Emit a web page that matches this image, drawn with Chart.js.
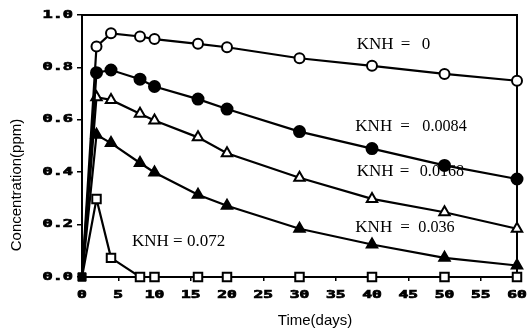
<!DOCTYPE html>
<html>
<head>
<meta charset="utf-8">
<script src="https://cdn.jsdelivr.net/npm/chart.js@4/dist/chart.umd.min.js"></script>
<style>
  html, body { margin: 0; padding: 0; background: #fff; }
  #wrap { width: 528px; height: 333px; }
</style>
</head>
<body>
<div id="wrap"><canvas id="concChart"></canvas></div>
<script>
// days sampled, and concentration (ppm) for each KNH value
var days = [0, 2, 4, 8, 10, 16, 20, 30, 40, 50, 60];
var knh0 = [0, 0.88, 0.93, 0.918, 0.908, 0.89, 0.877, 0.835, 0.806, 0.775, 0.749];
var knh0084 = [0, 0.78, 0.79, 0.755, 0.727, 0.679, 0.641, 0.555, 0.49, 0.426, 0.374];
var knh0168 = [0, 0.686, 0.676, 0.623, 0.597, 0.533, 0.472, 0.379, 0.298, 0.247, 0.184];
var knh036 = [0, 0.543, 0.511, 0.435, 0.399, 0.314, 0.272, 0.184, 0.124, 0.073, 0.044];
var knh072 = [0, 0.298, 0.073, 0, 0, 0, 0, 0, 0, 0, 0];

var xTicks = [0, 5, 10, 15, 20, 25, 30, 35, 40, 45, 50, 55, 60];
var yTicks = [0, 0.2, 0.4, 0.6, 0.8, 1.0];

// curve labels, placed in data units
var notes = [
    { x: 37.9, y: 0.887, num: '0', eq: 44, at: 65, sx: 1 },
    { x: 37.7, y: 0.573, num: '0.0084', eq: 45, at: 67, sx: 0.95 },
    { x: 37.9, y: 0.401, num: '0.0168', eq: 43, at: 63, sx: 0.95 },
    { x: 37.7, y: 0.187, num: '0.036', eq: 45, at: 63, sx: 0.95 },
    { x: 6.9, y: 0.134, num: '0.072', eq: 41, at: 55, sx: 1 }
];

function pts(values) {
    return values.map((v, i) => ({ x: days[i], y: v }));
}

function series(values, style, fill, radius) {
    return {
        data: pts(values),
        borderColor: '#000',
        borderWidth: 2.2,
        // first point (day 0) is a filled square
        pointStyle: ctx => ctx.dataIndex === 0 ? 'rect' : style,
        pointRadius: ctx => ctx.dataIndex === 0 ? 4.5 : radius,
        pointBackgroundColor: ctx => ctx.dataIndex === 0 ? '#000' : fill,
        pointBorderColor: '#000',
        pointBorderWidth: 2,
        clip: false,
        tension: 0
    };
}

var sets = [
    series(knh0, 'circle', '#fff', 5),
    series(knh0084, 'circle', '#000', 5.5),
    series(knh0168, 'triangle', '#fff', 6),
    series(knh036, 'triangle', '#000', 6),
    series(knh072, 'rect', '#fff', 6)
];

var frameAndText = {
    id: 'frameAndText',
    beforeDatasetsDraw(chart) {
        const { ctx, chartArea: a } = chart;
        ctx.save();
        ctx.strokeStyle = '#000';
        ctx.lineWidth = 2;
        ctx.strokeRect(a.left, a.top, a.right - a.left, a.bottom - a.top);
        ctx.restore();
    },
    afterDraw(chart) {
        const { ctx, scales: { x, y } } = chart;
        ctx.save();
        ctx.fillStyle = '#000';
        ctx.strokeStyle = '#000';

        // tick labels: wide, squat bold mono
        ctx.font = 'bold 13px "DejaVu Sans Mono"';
        ctx.lineWidth = 0.9;
        ctx.textBaseline = 'middle';
        ctx.textAlign = 'right';
        yTicks.forEach(v => {
            ctx.save();
            ctx.translate(73, y.getPixelForValue(v));
            ctx.scale(1.3, 0.75);
            ctx.fillText(v.toFixed(1), 0, 0);
            ctx.strokeText(v.toFixed(1), 0, 0);
            ctx.restore();
        });
        ctx.textAlign = 'center';
        xTicks.forEach(v => {
            ctx.save();
            ctx.translate(x.getPixelForValue(v), 295);
            ctx.scale(1.25, 0.75);
            ctx.fillText(String(v), 0, 0);
            ctx.strokeText(String(v), 0, 0);
            ctx.restore();
        });

        // axis titles
        ctx.font = '15px "Liberation Sans"';
        ctx.fillText('Time(days)', 315, 321);
        ctx.save();
        ctx.translate(17, 185);
        ctx.rotate(-Math.PI / 2);
        ctx.fillText('Concentration(ppm)', 0, 0);
        ctx.restore();

        // KNH labels
        ctx.textAlign = 'left';
        ctx.font = '17px "Liberation Serif"';
        notes.forEach(n => {
            const px = x.getPixelForValue(n.x);
            const py = y.getPixelForValue(n.y);
            ctx.fillText('KNH', px, py);
            ctx.fillText('=', px + n.eq, py);
            ctx.save();
            ctx.translate(px + n.at, py);
            ctx.scale(n.sx, 1);
            ctx.fillText(n.num, 0, 0);
            ctx.restore();
        });
        ctx.restore();
    }
};

var ctx = document.getElementById('concChart').getContext('2d');

var myChart = new Chart(ctx, {
    type: 'line',
    data: { datasets: sets },
    options: {
        responsive: true,
        maintainAspectRatio: false,
        animation: false,
        layout: {
            padding: { left: 0, right: 11, top: 15, bottom: 0 }
        },
        scales: {
            x: {
                type: 'linear',
                min: 0,
                max: 60,
                afterFit: s => { s.height = 56; },
                afterBuildTicks: s => { s.ticks = xTicks.map(v => ({ value: v })); },
                ticks: { display: false },
                grid: { drawOnChartArea: false, tickLength: 4, color: '#000', lineWidth: 1.5 },
                border: { color: '#000', width: 2 }
            },
            y: {
                min: 0,
                max: 1,
                afterFit: s => { s.width = 82; },
                afterBuildTicks: s => { s.ticks = yTicks.map(v => ({ value: v })); },
                ticks: { display: false },
                grid: { drawOnChartArea: false, tickLength: 5, color: '#000', lineWidth: 1.5 },
                border: { color: '#000', width: 2 }
            }
        },
        plugins: {
            legend: { display: false },
            tooltip: { enabled: false }
        }
    },
    plugins: [frameAndText]
});
</script>
</body>
</html>
